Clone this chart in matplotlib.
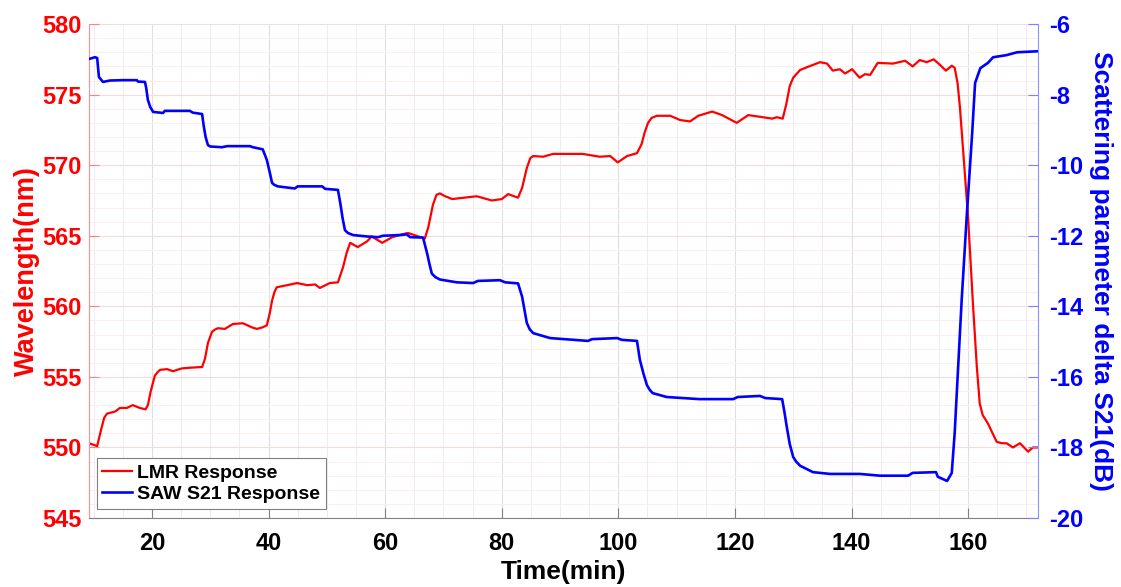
import matplotlib.pyplot as plt
from matplotlib.ticker import MultipleLocator
import numpy as np

plt.rcParams['font.family'] = ['Liberation Sans', 'DejaVu Sans']
plt.rcParams['font.weight'] = 'bold'
plt.rcParams['axes.unicode_minus'] = False

# LMR response (left axis, nm)
lmr_time = [9.2, 10.6, 11.3, 11.8, 12.3, 13.7, 14.5, 15.7, 16.7, 17.9, 18.9, 19.3, 19.8, 20.5,
            21.0, 21.4, 22.6, 23.6, 25.1, 26.5, 28.6, 29.1, 29.6, 30.3, 30.8, 31.3, 32.5, 33.9,
            35.6, 37.2, 38.0, 38.9, 39.7, 40.2, 40.6, 41.0, 41.4, 43.2, 44.9, 46.6, 48.0, 48.8,
            50.5, 51.9, 52.8, 53.4, 54.0, 55.3, 56.9, 57.7, 59.5, 61.2, 62.5, 63.9, 66.8, 67.4,
            68.2, 68.8, 69.4, 70.3, 71.5, 75.7, 78.3, 80.0, 81.1, 82.8, 83.5, 84.3, 84.9, 85.4,
            87.1, 88.8, 93.9, 96.8, 98.6, 99.9, 101.5, 103.2, 104.0, 104.5, 105.1, 105.7, 106.6,
            108.9, 110.6, 112.3, 113.7, 116.1, 117.8, 120.3, 122.3, 124.8, 126.4, 127.2, 128.2,
            128.8, 129.4, 130.0, 131.2, 132.4, 134.6, 135.8, 136.8, 138.0, 138.9, 140.1, 141.4,
            142.3, 143.2, 144.5, 147.1, 149.2, 150.5, 151.7, 152.9, 154.1, 155.2, 156.2, 157.2,
            157.7, 158.2, 158.6, 160.0, 160.8, 161.5, 162.0, 162.5, 163.4, 164.9, 165.8, 166.6,
            167.7, 168.9, 170.3, 171.1, 172.0]
lmr_nm = [550.3, 550.1, 551.3, 552.1, 552.4, 552.55, 552.8, 552.8, 553.0, 552.8, 552.7, 553.0,
          554.0, 555.1, 555.35, 555.5, 555.55, 555.4, 555.6, 555.65, 555.7, 556.3, 557.4, 558.2,
          558.35, 558.45, 558.4, 558.75, 558.8, 558.5, 558.4, 558.5, 558.65, 559.5, 560.4, 561.0,
          561.35, 561.5, 561.65, 561.5, 561.55, 561.3, 561.65, 561.7, 562.8, 563.8, 564.5, 564.2,
          564.6, 564.95, 564.5, 564.9, 565.05, 565.2, 564.8, 565.6, 567.2, 567.9, 568.0, 567.8,
          567.6, 567.8, 567.5, 567.6, 567.95, 567.7, 568.4, 569.8, 570.5, 570.65, 570.6, 570.8,
          570.8, 570.6, 570.65, 570.2, 570.65, 570.85, 571.5, 572.3, 573.0, 573.35, 573.5, 573.5,
          573.2, 573.1, 573.5, 573.8, 573.55, 573.0, 573.55, 573.4, 573.3, 573.4, 573.3, 574.3,
          575.6, 576.2, 576.75, 576.95, 577.3, 577.2, 576.7, 576.8, 576.5, 576.8, 576.2, 576.45,
          576.4, 577.25, 577.2, 577.4, 577.0, 577.45, 577.3, 577.5, 577.1, 576.7, 577.05, 576.9,
          575.8, 574.1, 566.3, 560.4, 555.7, 553.1, 552.3, 551.7, 550.4, 550.3, 550.3, 550.0,
          550.3, 549.7, 550.0, 550.0]

# SAW S21 response (right axis, dB)
saw_time = [9.2, 10.2, 10.6, 10.9, 11.6, 12.8, 15.0, 17.4, 17.6, 18.8, 19.0, 19.3, 19.7, 20.2,
            21.9, 22.2, 26.5, 27.0, 28.6, 28.9, 29.2, 29.6, 30.0, 32.0, 32.9, 36.8, 37.3, 39.0,
            39.7, 40.2, 40.6, 41.0, 41.6, 44.5, 45.0, 49.2, 49.7, 51.9, 52.3, 52.7, 53.1, 53.6,
            54.5, 56.9, 58.8, 59.6, 62.5, 63.7, 64.3, 66.5, 67.2, 67.6, 68.0, 68.6, 69.4, 72.3,
            75.1, 75.9, 79.7, 80.6, 82.8, 83.5, 84.3, 84.8, 85.4, 88.3, 94.8, 95.5, 99.8, 100.6,
            103.2, 103.7, 104.3, 104.9, 105.4, 105.9, 108.3, 113.9, 119.7, 120.5, 124.3, 125.2,
            128.1, 128.5, 128.9, 129.4, 130.0, 130.5, 131.2, 133.4, 136.3, 141.4, 144.9, 149.7,
            150.5, 154.5, 154.8, 156.4, 157.2, 157.7, 158.6, 158.9, 159.8, 160.7, 161.2, 162.1,
            163.4, 164.3, 166.6, 168.4, 172.0]
saw_db = [-6.99, -6.94, -6.96, -7.5, -7.64, -7.6, -7.59, -7.59, -7.63, -7.64, -7.8, -8.15,
          -8.35, -8.49, -8.52, -8.46, -8.46, -8.51, -8.55, -8.91, -9.2, -9.43, -9.47, -9.49,
          -9.46, -9.46, -9.49, -9.55, -9.85, -10.2, -10.5, -10.56, -10.6, -10.66, -10.6, -10.6,
          -10.67, -10.7, -11.07, -11.5, -11.84, -11.92, -11.98, -12.02, -12.04, -12.0, -11.98,
          -11.96, -12.04, -12.05, -12.5, -12.8, -13.07, -13.17, -13.24, -13.32, -13.34, -13.28,
          -13.26, -13.32, -13.35, -13.73, -14.47, -14.65, -14.76, -14.9, -14.98, -14.93, -14.9,
          -14.95, -14.98, -15.52, -15.9, -16.23, -16.37, -16.46, -16.57, -16.63, -16.63, -16.57,
          -16.54, -16.6, -16.63, -17.0, -17.42, -17.9, -18.27, -18.4, -18.52, -18.7, -18.75,
          -18.75, -18.8, -18.8, -18.72, -18.7, -18.83, -18.95, -18.72, -17.59, -14.76, -13.82,
          -11.36, -9.09, -7.67, -7.25, -7.1, -6.94, -6.88, -6.8, -6.77]

fig, ax = plt.subplots(figsize=(11.21, 5.87), dpi=100)
fig.subplots_adjust(left=0.0794, right=0.926, bottom=0.1175, top=0.959)
ax2 = ax.twinx()

l1, = ax.plot(lmr_time, lmr_nm, color='#ff0000', lw=1.6, label='LMR Response',
              solid_joinstyle='round')
l2, = ax2.plot(saw_time, saw_db, color='#0000ff', lw=1.9, label='SAW S21 Response',
               solid_joinstyle='round')

ax.set_xlim(9.2, 172)
ax.set_ylim(545, 580)
ax2.set_ylim(-20, -6)

ax.xaxis.set_major_locator(MultipleLocator(20))
ax.xaxis.set_minor_locator(MultipleLocator(5))
ax.yaxis.set_major_locator(MultipleLocator(5))
ax.yaxis.set_minor_locator(MultipleLocator(1))
ax2.yaxis.set_major_locator(MultipleLocator(2))
ax2.yaxis.set_minor_locator(MultipleLocator(1))

ax.grid(which='major', axis='y', color='#f7dada', lw=0.8)
ax.grid(which='minor', axis='y', color='#fbeeee', lw=0.7)
ax.grid(which='major', axis='x', color='#e2dde0', lw=0.8)
ax.grid(which='minor', axis='x', color='#efebee', lw=0.7)
ax.set_axisbelow(True)

ax.tick_params(axis='x', which='major', direction='in', length=7, colors='#808080',
               labelcolor='black', labelsize=17, pad=10)
ax.tick_params(axis='x', which='minor', length=0)
ax.tick_params(axis='y', which='major', direction='in', length=7, colors='#ff8080',
               labelcolor='#ff0000', labelsize=17, pad=5)
ax.tick_params(axis='y', which='minor', length=0)
ax2.tick_params(axis='y', which='major', direction='in', length=7, colors='#8080ff',
                labelcolor='#0000ff', labelsize=17, pad=8)
ax2.tick_params(axis='y', which='minor', length=0)

for a in (ax, ax2):
    a.spines['top'].set_visible(False)
ax.spines['left'].set_color('#ff9090')
ax2.spines['left'].set_visible(False)
ax2.spines['right'].set_color('#9090ff')
ax.spines['right'].set_visible(False)
ax.spines['bottom'].set_color('#808080')
ax2.spines['bottom'].set_visible(False)

ax.set_xlabel('Time(min)', fontsize=19, fontweight='bold', labelpad=4)
ax.set_ylabel('Wavelength(nm)', fontsize=19.5, fontweight='bold', color='#ff0000', labelpad=2)
ax2.set_ylabel('Scattering parameter delta S21(dB)', fontsize=19, fontweight='bold',
               color='#0000ff', rotation=-90, labelpad=21)

leg = ax2.legend(handles=[l1, l2], loc='lower left', bbox_to_anchor=(0.008, 0.018),
                 borderaxespad=0, prop={'weight': 'bold', 'size': 14},
                 fancybox=False, framealpha=1, edgecolor='#808080', handlelength=1.5,
                 handletextpad=0.3, borderpad=0.3, labelspacing=0.2)
leg.get_frame().set_linewidth(0.8)

fig.savefig('out.png', dpi=100)
